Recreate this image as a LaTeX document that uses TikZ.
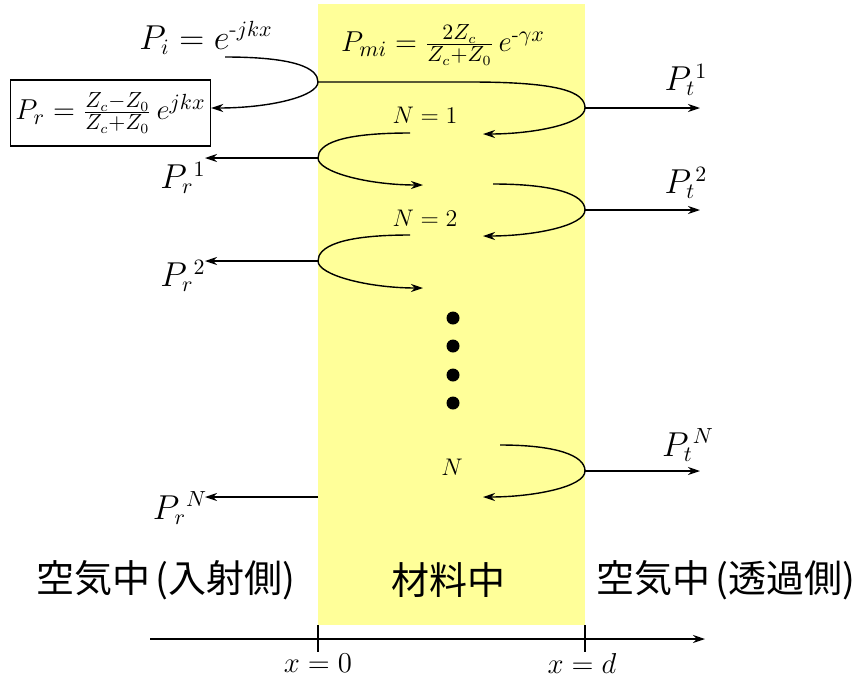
\documentclass[tikz,border=0pt]{standalone}
\usepackage{amsmath}
\usepackage{fontspec}
\usetikzlibrary{arrows.meta,calc}
\newfontfamily\jpfont{Noto Sans CJK JP}
\definecolor{slab}{RGB}{255,255,153}

\begin{document}
\begin{tikzpicture}[x=0.5pt,y=-0.5pt,line width=0.7pt,
  wave/.style={-{Stealth[length=6pt,width=4pt]}},
  mlab/.style={font=\fontsize{16}{19}\selectfont,inner sep=1pt},
  nlab/.style={font=\fontsize{13}{15}\selectfont,inner sep=1pt},
  xlab/.style={font=\fontsize{14}{16}\selectfont,inner sep=1pt},
  jlab/.style={font=\jpfont\fontsize{19}{22}\selectfont,inner sep=1pt}]
\useasboundingbox (0,0) rectangle (857,681);
\def\xl{318}
\def\xr{585}

% Material slab
\fill[slab] (\xl,4) rectangle (\xr,625);

% Axis with the two boundaries
\coordinate (ax0) at (150,639);
\coordinate (ax1) at (705,639);
\draw[wave] (ax0) -- (ax1);
\draw (\xl,625) -- (\xl,652);
\draw (\xr,625) -- (\xr,652);

% Labels
\node[mlab] (pi) at (206,38) {$P_i = e^{\text{-}jkx}$};
\node[mlab,font=\fontsize{15}{18}\selectfont] (pmi) at (443,45) {$P_{mi} = \frac{2Z_c}{Z_c+Z_0}\, e^{\text{-}\gamma x}$};
\node[mlab,font=\fontsize{15}{18}\selectfont,draw,minimum width=100pt,minimum height=33pt,inner sep=2pt] (pr) at (110.5,113) {$P_r = \frac{Z_c - Z_0}{Z_c + Z_0}\, e^{jkx}$};
\node[mlab] (pt1) at (686,80) {$P_t{}^{1}$};
\node[mlab] (pt2) at (686,183) {$P_t{}^{2}$};
\node[mlab] (ptn) at (688,445) {$P_t{}^{N}$};
\node[mlab] (pr1) at (183,178) {$P_r{}^{1}$};
\node[mlab] (pr2) at (183,276) {$P_r{}^{2}$};
\node[mlab] (prn) at (180,508) {$P_r{}^{N}$};
\node[nlab] (n1) at (425,115) {$N = 1$};
\node[nlab] (n2) at (425,218) {$N = 2$};
\node[nlab] (nn) at (452,467) {$N$};
\node[jlab] (airin) at (166,580) {空気中\kern.12em(入射側)};
\node[jlab] (mat) at (448,580) {材料中};
\node[jlab] (airout) at (726,580) {空気中\kern.12em(透過側)};
\node[xlab] (x0) at (318,663) {$x = 0$};
\node[xlab] (xd) at (582,663) {$x = d$};

% Hit points on the two faces
\coordinate (in0) at (225,57);
\coordinate (wl0) at (\xl,82);
\coordinate (top) at (470,82);
\coordinate (wr1) at (\xr,108);
\coordinate (e1) at (483,134);
\coordinate (s2) at (410,133);
\coordinate (wl1) at (\xl,158);
\coordinate (e2) at (423,185);
\coordinate (s3) at (493,184);
\coordinate (wr2) at (\xr,210);
\coordinate (e3) at (483,236);
\coordinate (s4) at (410,235);
\coordinate (wl2) at (\xl,261);
\coordinate (e4) at (423,288);
\coordinate (s5) at (500,445);
\coordinate (wrn) at (\xr,471);
\coordinate (en) at (483,497);
\coordinate (wln) at (\xl,497);

% Incident and reflected waves
\draw[wave] (in0) .. controls +(70,0) and +(0,-14) .. (wl0)
  .. controls +(0,14) and +(60,0) .. ([yshift=2.5pt]pr.east);
\draw[wave] (wl0) -- (top) .. controls +(90,0) and +(0,-16) .. (wr1)
  .. controls +(0,16) and +(50,0) .. (e1);
\draw[wave] (s2) .. controls +(-70,0) and +(0,-14) .. (wl1)
  .. controls +(0,14) and +(-55,0) .. (e2);
\draw[wave] (s3) .. controls +(60,0) and +(0,-16) .. (wr2)
  .. controls +(0,16) and +(50,0) .. (e3);
\draw[wave] (s4) .. controls +(-70,0) and +(0,-14) .. (wl2)
  .. controls +(0,14) and +(-55,0) .. (e4);
\draw[wave] (s5) .. controls +(55,0) and +(0,-16) .. (wrn)
  .. controls +(0,16) and +(50,0) .. (en);

% Transmitted and reflected parts
\draw[wave] (wr1) -- ++(115,0);
\draw[wave] (wr2) -- ++(115,0);
\draw[wave] (wrn) -- ++(115,0);
\draw[wave] (wl1) -- ++(-113,0);
\draw[wave] (wl2) -- ++(-113,0);
\draw[wave] (wln) -- ++(-113,0);

% Dots
\foreach \y in {318,346,375,403}
  \fill (453,\y) circle (6.5);
\end{tikzpicture}
\end{document}
